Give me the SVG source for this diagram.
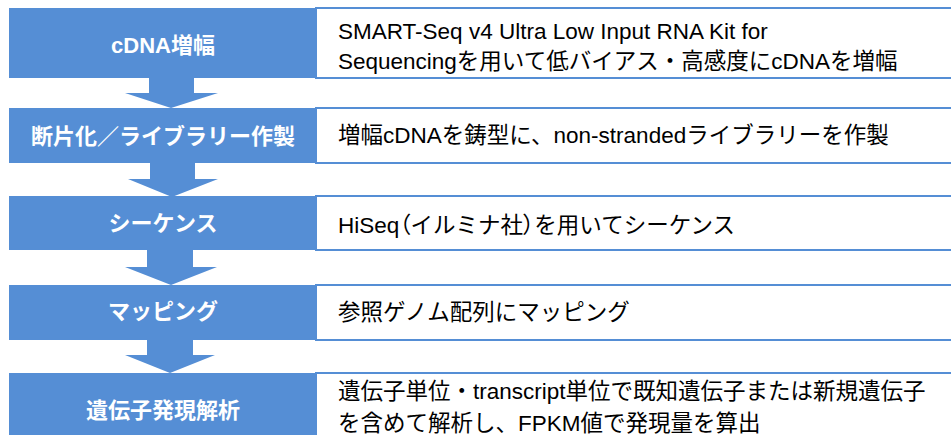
<svg xmlns="http://www.w3.org/2000/svg" width="951" height="435" viewBox="0 0 951 435">
<style>
.step{fill:#558ed5;}
.desc{fill:#ffffff;stroke:#558ed5;stroke-width:2;}
.lt{font-family:"Liberation Sans","Noto Sans CJK JP",sans-serif;font-weight:bold;font-size:22px;fill:#ffffff;text-anchor:middle;}
.rt{font-family:"Liberation Sans","Noto Sans CJK JP",sans-serif;font-size:22.5px;fill:#000000;}
.p{font-feature-settings:"palt";}
.arr{fill:#558ed5;}
</style>
<rect width="951" height="435" fill="#ffffff"/>
<g id="desc-boxes">
<rect class="desc" x="316" y="8" width="660" height="70"/>
<rect class="desc" x="316" y="108" width="660" height="55"/>
<rect class="desc" x="316" y="196" width="660" height="54"/>
<rect class="desc" x="316" y="285" width="660" height="55"/>
<rect class="desc" x="316" y="373" width="660" height="80"/>
</g>
<g id="connectors">
<polygon class="arr" points="149,77 194,77 194,93 218,93 171,108 125,93 149,93"/>
<polygon class="arr" points="150,162 195,162 195,179 218,179 172,197 128,179 150,179"/>
<polygon class="arr" points="147,249 193,249 193,267 217,267 171,285 125,267 147,267"/>
<polygon class="arr" points="147,339 193,339 193,355 215,355 170,373 125,355 147,355"/>
</g>
<g id="step1">
<rect class="step" x="9" y="8" width="308" height="70"/>
<text class="lt" x="163" y="53">cDNA増幅</text>
<text class="rt" x="338" y="39">SMART-Seq v4 Ultra Low Input RNA Kit for</text>
<text class="rt" x="338" y="69">Sequencingを用いて低バイアス・高感度にcDNAを増幅</text>
</g>
<g id="step2">
<rect class="step" x="9" y="108" width="308" height="55"/>
<text class="lt" x="163" y="144">断片化／ライブラリー作製</text>
<text class="rt" x="338" y="143">増幅cDNAを鋳型に、non-strandedライブラリーを作製</text>
</g>
<g id="step3">
<rect class="step" x="9" y="196" width="308" height="54"/>
<text class="lt" x="163" y="231">シーケンス</text>
<text class="rt" x="338" y="233">HiSeq<tspan class="p">（</tspan>イルミナ社<tspan class="p">）</tspan>を用いてシーケンス</text>
</g>
<g id="step4">
<rect class="step" x="9" y="285" width="308" height="55"/>
<text class="lt" x="163" y="319">マッピング</text>
<text class="rt" x="338" y="320">参照ゲノム配列にマッピング</text>
</g>
<g id="step5">
<rect class="step" x="9" y="373" width="308" height="80"/>
<text class="lt" x="163" y="418">遺伝子発現解析</text>
<text class="rt" x="338" y="399">遺伝子単位・transcript単位で既知遺伝子または新規遺伝子</text>
<text class="rt" x="338" y="431">を含めて解析し、FPKM値で発現量を算出</text>
</g>
</svg>
